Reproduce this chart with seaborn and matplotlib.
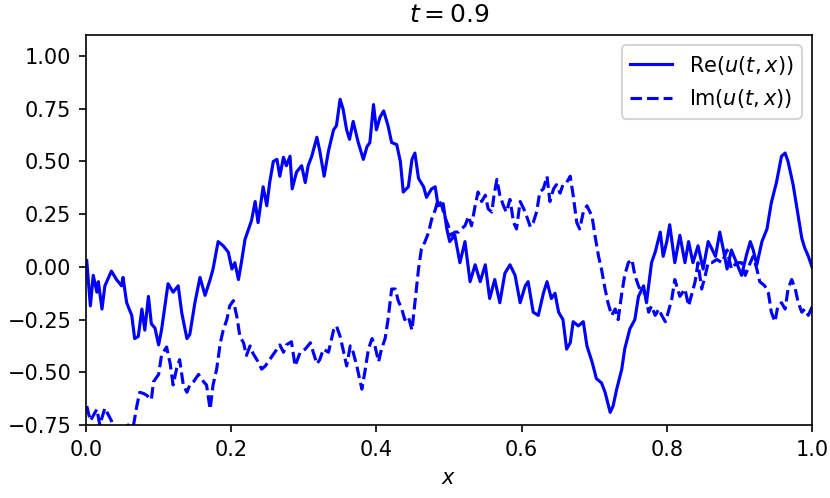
import numpy as np
import matplotlib
matplotlib.use("Agg")
import matplotlib.pyplot as plt
import seaborn as sns

# Re(u(t,x))
x_re = [0.001, 0.006, 0.010, 0.015, 0.017, 0.022, 0.026, 0.035, 0.042, 0.049, 0.051, 0.056,
        0.063, 0.067, 0.072, 0.077, 0.081, 0.086, 0.090, 0.095, 0.100, 0.104, 0.113, 0.120,
        0.127, 0.132, 0.139, 0.143, 0.150, 0.157, 0.164, 0.171, 0.175, 0.182, 0.189, 0.196,
        0.201, 0.205, 0.210, 0.214, 0.219, 0.224, 0.228, 0.233, 0.237, 0.244, 0.249, 0.253,
        0.258, 0.263, 0.267, 0.272, 0.276, 0.281, 0.284, 0.290, 0.297, 0.302, 0.306, 0.311,
        0.318, 0.322, 0.328, 0.334, 0.341, 0.345, 0.350, 0.354, 0.359, 0.363, 0.368, 0.375,
        0.382, 0.387, 0.391, 0.396, 0.400, 0.405, 0.410, 0.416, 0.421, 0.428, 0.433, 0.437,
        0.444, 0.449, 0.453, 0.458, 0.465, 0.469, 0.476, 0.481, 0.485, 0.492, 0.497, 0.501,
        0.508, 0.515, 0.522, 0.529, 0.536, 0.543, 0.550, 0.556, 0.563, 0.570, 0.577, 0.584,
        0.591, 0.598, 0.605, 0.609, 0.616, 0.623, 0.630, 0.635, 0.641, 0.646, 0.651, 0.657,
        0.662, 0.667, 0.671, 0.678, 0.685, 0.690, 0.697, 0.703, 0.710, 0.715, 0.722, 0.726,
        0.731, 0.738, 0.742, 0.749, 0.756, 0.761, 0.768, 0.772, 0.779, 0.784, 0.791, 0.795,
        0.800, 0.804, 0.811, 0.818, 0.825, 0.830, 0.836, 0.843, 0.850, 0.857, 0.860, 0.867,
        0.873, 0.878, 0.883, 0.889, 0.896, 0.903, 0.910, 0.915, 0.919, 0.924, 0.931, 0.938,
        0.944, 0.951, 0.958, 0.963, 0.967, 0.974, 0.981, 0.986, 0.990, 0.995, 1.000]
re_u = [0.03, -0.185, -0.04, -0.12, -0.07, -0.20, -0.09, -0.02, -0.06, -0.09, -0.05, -0.17,
        -0.23, -0.34, -0.33, -0.20, -0.30, -0.14, -0.27, -0.29, -0.37, -0.30, -0.08, -0.12,
        -0.09, -0.22, -0.34, -0.32, -0.17, -0.05, -0.135, -0.06, -0.01, 0.12, 0.10, 0.07,
        -0.01, 0.02, -0.06, 0.02, 0.13, 0.18, 0.22, 0.31, 0.21, 0.38, 0.29, 0.40,
        0.50, 0.51, 0.43, 0.52, 0.48, 0.525, 0.37, 0.45, 0.48, 0.40, 0.48, 0.525,
        0.615, 0.55, 0.43, 0.55, 0.65, 0.67, 0.795, 0.75, 0.65, 0.605, 0.69, 0.59,
        0.51, 0.57, 0.59, 0.77, 0.65, 0.71, 0.74, 0.67, 0.59, 0.58, 0.50, 0.355,
        0.38, 0.51, 0.54, 0.42, 0.38, 0.33, 0.37, 0.38, 0.29, 0.30, 0.18, 0.12,
        0.15, 0.02, 0.12, -0.07, 0.01, -0.07, 0.01, -0.15, -0.06, -0.17, -0.03, 0.01,
        -0.04, -0.17, -0.09, -0.07, -0.215, -0.23, -0.125, -0.07, -0.15, -0.125, -0.215, -0.25,
        -0.39, -0.36, -0.26, -0.28, -0.26, -0.375, -0.45, -0.53, -0.55, -0.595, -0.69, -0.66,
        -0.58, -0.485, -0.39, -0.295, -0.25, -0.14, -0.09, -0.17, 0.02, 0.07, 0.165, 0.05,
        0.12, 0.20, 0.02, 0.15, 0.02, 0.12, 0.02, 0.10, -0.01, 0.12, 0.10, 0.05,
        0.165, 0.08, -0.01, 0.08, 0.02, -0.04, 0.06, 0.12, 0.08, 0.01, 0.12, 0.18,
        0.305, 0.40, 0.525, 0.54, 0.50, 0.39, 0.24, 0.135, 0.09, 0.05, 0.0]

# Im(u(t,x)) (values below -0.75 are clipped by the axes)
x_im = [0.001, 0.006, 0.015, 0.019, 0.026, 0.035, 0.040, 0.049, 0.058, 0.065, 0.070, 0.074,
        0.079, 0.084, 0.090, 0.093, 0.100, 0.104, 0.111, 0.116, 0.120, 0.125, 0.129, 0.134,
        0.139, 0.143, 0.148, 0.155, 0.162, 0.166, 0.171, 0.175, 0.180, 0.185, 0.189, 0.194,
        0.198, 0.203, 0.208, 0.212, 0.217, 0.221, 0.226, 0.230, 0.237, 0.242, 0.247, 0.253,
        0.260, 0.267, 0.272, 0.276, 0.283, 0.288, 0.295, 0.302, 0.309, 0.313, 0.318, 0.322,
        0.327, 0.334, 0.341, 0.345, 0.350, 0.354, 0.359, 0.364, 0.368, 0.373, 0.380, 0.384,
        0.389, 0.394, 0.398, 0.403, 0.407, 0.412, 0.416, 0.421, 0.426, 0.430, 0.435, 0.439,
        0.444, 0.449, 0.453, 0.458, 0.462, 0.467, 0.472, 0.476, 0.481, 0.485, 0.490, 0.494,
        0.499, 0.503, 0.508, 0.513, 0.517, 0.522, 0.527, 0.531, 0.536, 0.540, 0.545, 0.550,
        0.554, 0.559, 0.562, 0.566, 0.570, 0.575, 0.579, 0.584, 0.589, 0.593, 0.598, 0.603,
        0.607, 0.612, 0.616, 0.621, 0.625, 0.630, 0.635, 0.639, 0.644, 0.648, 0.653, 0.657,
        0.662, 0.667, 0.671, 0.676, 0.680, 0.685, 0.690, 0.697, 0.701, 0.706, 0.710, 0.715,
        0.719, 0.724, 0.729, 0.733, 0.738, 0.742, 0.747, 0.752, 0.756, 0.761, 0.765, 0.770,
        0.775, 0.779, 0.784, 0.789, 0.793, 0.798, 0.802, 0.807, 0.811, 0.818, 0.825, 0.830,
        0.839, 0.843, 0.848, 0.853, 0.857, 0.862, 0.869, 0.876, 0.883, 0.889, 0.896, 0.903,
        0.908, 0.915, 0.919, 0.924, 0.928, 0.935, 0.940, 0.944, 0.949, 0.953, 0.958, 0.963,
        0.967, 0.972, 0.977, 0.981, 0.986, 0.990, 0.995, 1.000]
im_u = [-0.66, -0.73, -0.675, -0.75, -0.67, -0.73, -0.80, -0.85, -0.75, -0.76, -0.66, -0.595,
        -0.60, -0.61, -0.63, -0.545, -0.51, -0.42, -0.38, -0.46, -0.56, -0.48, -0.44, -0.56,
        -0.595, -0.56, -0.545, -0.51, -0.545, -0.56, -0.675, -0.56, -0.485, -0.36, -0.30, -0.25,
        -0.185, -0.16, -0.24, -0.33, -0.36, -0.42, -0.375, -0.41, -0.45, -0.485, -0.47, -0.44,
        -0.405, -0.37, -0.405, -0.37, -0.355, -0.47, -0.405, -0.39, -0.36, -0.405, -0.46, -0.44,
        -0.39, -0.405, -0.30, -0.28, -0.33, -0.39, -0.47, -0.375, -0.405, -0.47, -0.58, -0.50,
        -0.39, -0.34, -0.375, -0.45, -0.39, -0.34, -0.25, -0.105, -0.105, -0.16, -0.20, -0.25,
        -0.235, -0.30, -0.17, -0.01, 0.085, 0.12, 0.165, 0.225, 0.27, 0.32, 0.29, 0.24,
        0.195, 0.15, 0.165, 0.165, 0.18, 0.195, 0.24, 0.195, 0.29, 0.355, 0.31, 0.34,
        0.275, 0.26, 0.34, 0.415, 0.34, 0.29, 0.26, 0.32, 0.21, 0.18, 0.31, 0.275,
        0.24, 0.19, 0.21, 0.265, 0.355, 0.37, 0.43, 0.31, 0.37, 0.39, 0.35, 0.39,
        0.40, 0.43, 0.34, 0.21, 0.18, 0.26, 0.29, 0.24, 0.15, 0.05, -0.01, -0.105,
        -0.17, -0.23, -0.20, -0.25, -0.125, -0.04, 0.02, 0.035, -0.04, -0.09, -0.12, -0.125,
        -0.215, -0.185, -0.23, -0.20, -0.23, -0.26, -0.215, -0.15, -0.06, -0.14, -0.105, -0.185,
        -0.07, 0.02, -0.105, -0.04, 0.02, 0.02, 0.035, 0.02, 0.08, -0.01, 0.02, 0.02,
        -0.04, 0.02, 0.05, -0.01, -0.07, -0.09, -0.125, -0.215, -0.26, -0.185, -0.17, -0.20,
        -0.105, -0.06, -0.105, -0.17, -0.215, -0.20, -0.23, -0.19]

x_ticks = [0.0, 0.2, 0.4, 0.6, 0.8, 1.0]
y_ticks = [-0.75, -0.50, -0.25, 0.00, 0.25, 0.50, 0.75, 1.00]

fig, ax = plt.subplots(figsize=(830 / 150, 498 / 150), dpi=150)
sns.lineplot(x=x_re, y=re_u, color='b', linewidth=1.5, estimator=None,
             label=r'Re$(u(t,x))$', ax=ax)
sns.lineplot(x=x_im, y=im_u, color='b', linewidth=1.5, linestyle='--', estimator=None,
             label=r'Im$(u(t,x))$', ax=ax)

ax.set_xlim(0, 1)
ax.set_ylim(-0.75, 1.1)
ax.set_xticks(x_ticks)
ax.set_yticks(y_ticks)
ax.set_xlabel(r'$x$')
ax.set_title(r'$t = 0.9$')
ax.legend(loc='upper right')

fig.subplots_adjust(left=86 / 830, right=812 / 830, top=1 - 35 / 498, bottom=1 - 425 / 498)
fig.savefig('out.png', dpi=150)
